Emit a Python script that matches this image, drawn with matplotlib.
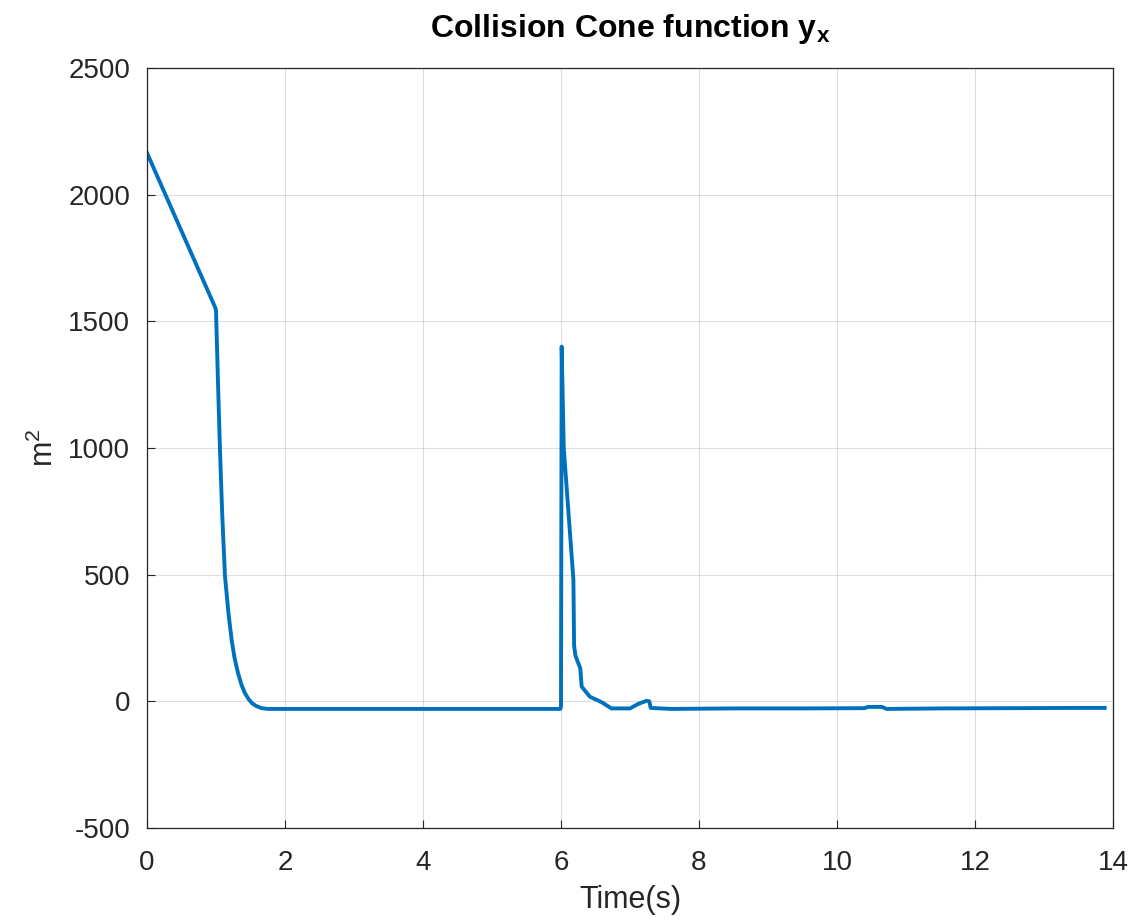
import matplotlib
matplotlib.use("Agg")
import matplotlib.pyplot as plt

plt.rcParams['font.family'] = ['Liberation Sans', 'DejaVu Sans']
plt.rcParams['mathtext.fontset'] = 'custom'
plt.rcParams['mathtext.rm'] = 'Liberation Sans'
plt.rcParams['mathtext.it'] = 'Liberation Sans'
plt.rcParams['mathtext.bf'] = 'Liberation Sans:bold'
plt.rcParams['axes.unicode_minus'] = False

# Data (time in s, value in m^2)
time = [0.0, 0.985, 1.0, 1.03, 1.058, 1.09, 1.13, 1.18, 1.227, 1.27, 1.32, 1.37, 1.42, 1.47,
        1.52, 1.58, 1.66, 1.75, 2.5, 4.0, 5.99,
        6.0, 6.01, 6.04, 6.18, 6.19, 6.21, 6.28, 6.30, 6.42, 6.60, 6.73, 7.0, 7.12, 7.24, 7.28, 7.30,
        7.6, 8.5, 9.5, 10.4, 10.45, 10.65, 10.72, 11.5, 12.5, 13.5, 13.88]
value = [2165, 1557, 1545, 1250, 991, 740, 495, 350, 242, 170, 111, 65, 32, 10,
         -7, -18, -27, -30, -30, -30, -30,
         -20, 1400, 1000, 480, 220, 180, 130, 58, 18, -5, -28, -28, -10, 2, 0, -26,
         -30, -28, -28, -27, -22, -22, -30, -28, -27, -26, -26]

xticks = [0, 2, 4, 6, 8, 10, 12, 14]
yticks = [-500, 0, 500, 1000, 1500, 2000, 2500]

fig = plt.figure(figsize=(11.35, 9.24), dpi=100)
ax = fig.add_axes([0.1295, 0.1039, 0.8511, 0.8225])
ax.plot(time, value, color='#0072BD', linewidth=2.8)

ax.set_xlim(0, 14)
ax.set_ylim(-500, 2500)
ax.set_xticks(xticks)
ax.set_yticks(yticks)
ax.grid(True, color='#262626', alpha=0.15, linewidth=0.8)
ax.tick_params(direction='in', length=6, labelsize=20, colors='#262626')
ax.tick_params(axis='x', pad=16)
ax.tick_params(axis='y', pad=12)
for s in ax.spines.values():
    s.set_color('#262626')
    s.set_linewidth(0.9)
ax.set_xlabel('Time(s)', fontsize=22, color='#262626', labelpad=6)
ax.set_ylabel('m$^2$', fontsize=22, color='#262626', labelpad=6)
ax.set_title(r'Collision Cone function $\mathbf{y_x}$', fontsize=23, fontweight='bold', pad=22)

fig.savefig('out.png', dpi=100)
